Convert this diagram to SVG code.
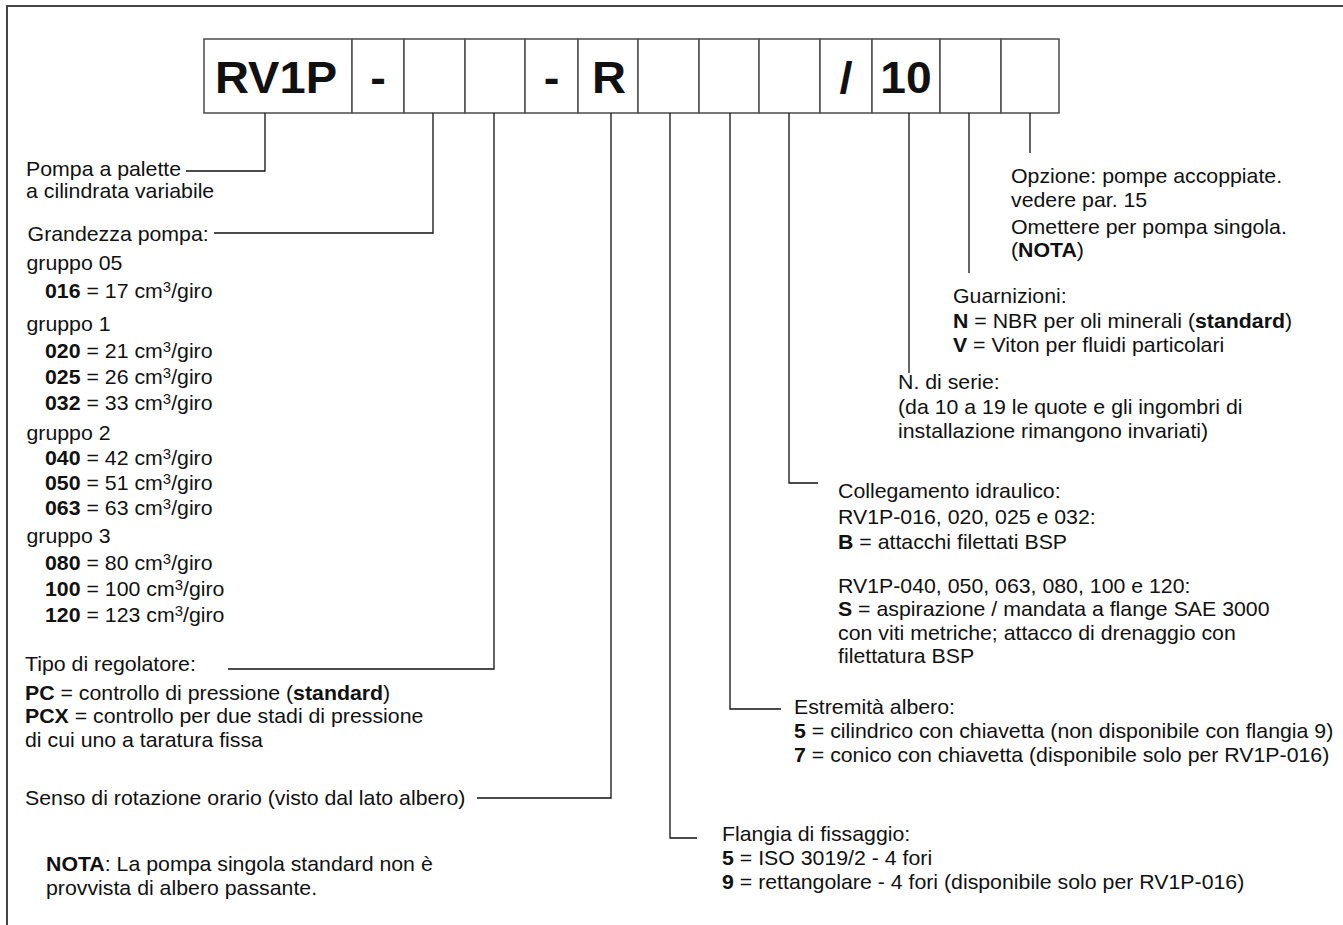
<svg xmlns="http://www.w3.org/2000/svg" width="1343" height="925" viewBox="0 0 1343 925">
<style>
text{font-family:"Liberation Sans",Arial,sans-serif;font-size:20px;fill:#111}
.b{font-weight:bold}
.code{font-weight:bold;font-size:44px;text-anchor:middle}
.cell{fill:#fff;stroke:#555;stroke-width:1.6}
.ln{fill:none;stroke:#111;stroke-width:1.3}
.sup{font-size:14px}
</style>
<rect x="0" y="0" width="1343" height="925" fill="#fff"/>
<rect x="7" y="6" width="1346" height="935" fill="none" stroke="#444" stroke-width="2"/>

<g id="code">
<g id="c1"><rect class="cell" x="204" y="39" width="148" height="74"/><text class="code" transform="translate(276,93) scale(1.07,1)">RV1P</text></g>
<g id="c2"><rect class="cell" x="352" y="39" width="52" height="74"/><text class="code" transform="translate(378,93) scale(1.07,1)">-</text></g>
<g id="c3"><rect class="cell" x="404" y="39" width="61" height="74"/></g>
<g id="c4"><rect class="cell" x="465" y="39" width="60" height="74"/></g>
<g id="c5"><rect class="cell" x="525" y="39" width="53" height="74"/><text class="code" transform="translate(551.5,93) scale(1.07,1)">-</text></g>
<g id="c6"><rect class="cell" x="578" y="39" width="60" height="74"/><text class="code" transform="translate(609,93) scale(1.07,1)">R</text></g>
<g id="c7"><rect class="cell" x="638" y="39" width="61" height="74"/></g>
<g id="c8"><rect class="cell" x="699" y="39" width="60" height="74"/></g>
<g id="c9"><rect class="cell" x="759" y="39" width="61" height="74"/></g>
<g id="c10"><rect class="cell" x="820" y="39" width="52" height="74"/><text class="code" transform="translate(846,93) scale(1.07,1)">/</text></g>
<g id="c11"><rect class="cell" x="872" y="39" width="68" height="74"/><text class="code" transform="translate(906,93) scale(1.05,1)">10</text></g>
<g id="c12"><rect class="cell" x="940" y="39" width="61" height="74"/></g>
<g id="c13"><rect class="cell" x="1001" y="39" width="58" height="74"/></g>
</g>

<g id="connectors">
<polyline class="ln" points="265,113 265,171 186,171"/>
<polyline class="ln" points="433,113 433,233 214,233"/>
<polyline class="ln" points="494,113 494,669 228,669"/>
<polyline class="ln" points="611,113 611,798 477,798"/>
<polyline class="ln" points="670,113 670,838 697,838"/>
<polyline class="ln" points="730,113 730,709 781,709"/>
<polyline class="ln" points="789,113 789,483 818,483"/>
<polyline class="ln" points="909,113 909,373"/>
<polyline class="ln" points="969,113 969,273"/>
<polyline class="ln" points="1030,113 1030,153"/>
</g>

<g id="n-pompa" transform="translate(26,0) scale(1.065,1)">
<text x="0" y="176">Pompa a palette</text>
<text x="0" y="198">a cilindrata variabile</text>
</g>

<g id="n-grandezza" transform="translate(26.5,0) scale(1.065,1)">
<text x="1" y="241">Grandezza pompa:</text>
<text x="0" y="270">gruppo 05</text>
<text x="17.4" y="298"><tspan class="b">016</tspan> = 17 cm<tspan class="sup" dy="-6">3</tspan><tspan dy="6">/giro</tspan></text>
<text x="0" y="331">gruppo 1</text>
<text x="17.4" y="358"><tspan class="b">020</tspan> = 21 cm<tspan class="sup" dy="-6">3</tspan><tspan dy="6">/giro</tspan></text>
<text x="17.4" y="384"><tspan class="b">025</tspan> = 26 cm<tspan class="sup" dy="-6">3</tspan><tspan dy="6">/giro</tspan></text>
<text x="17.4" y="410"><tspan class="b">032</tspan> = 33 cm<tspan class="sup" dy="-6">3</tspan><tspan dy="6">/giro</tspan></text>
<text x="0" y="440">gruppo 2</text>
<text x="17.4" y="465"><tspan class="b">040</tspan> = 42 cm<tspan class="sup" dy="-6">3</tspan><tspan dy="6">/giro</tspan></text>
<text x="17.4" y="490"><tspan class="b">050</tspan> = 51 cm<tspan class="sup" dy="-6">3</tspan><tspan dy="6">/giro</tspan></text>
<text x="17.4" y="515"><tspan class="b">063</tspan> = 63 cm<tspan class="sup" dy="-6">3</tspan><tspan dy="6">/giro</tspan></text>
<text x="0" y="543">gruppo 3</text>
<text x="17.4" y="570"><tspan class="b">080</tspan> = 80 cm<tspan class="sup" dy="-6">3</tspan><tspan dy="6">/giro</tspan></text>
<text x="17.4" y="596"><tspan class="b">100</tspan> = 100 cm<tspan class="sup" dy="-6">3</tspan><tspan dy="6">/giro</tspan></text>
<text x="17.4" y="622"><tspan class="b">120</tspan> = 123 cm<tspan class="sup" dy="-6">3</tspan><tspan dy="6">/giro</tspan></text>
</g>

<g id="n-tipo" transform="translate(25,0) scale(1.065,1)">
<text x="0" y="671">Tipo di regolatore:</text>
<text x="0" y="700"><tspan class="b">PC</tspan> = controllo di pressione (<tspan class="b">standard</tspan>)</text>
<text x="0" y="723"><tspan class="b">PCX</tspan> = controllo per due stadi di pressione</text>
<text x="0" y="747">di cui uno a taratura fissa</text>
</g>

<g id="n-senso" transform="translate(25,0) scale(1.065,1)">
<text x="0" y="805">Senso di rotazione orario (visto dal lato albero)</text>
</g>

<g id="n-nota" transform="translate(46,0) scale(1.065,1)">
<text x="0" y="871"><tspan class="b">NOTA</tspan>: La pompa singola standard non è</text>
<text x="0" y="895">provvista di albero passante.</text>
</g>

<g id="n-opzione" transform="translate(1011,0) scale(1.065,1)">
<text x="0" y="183">Opzione: pompe accoppiate.</text>
<text x="0" y="207">vedere par. 15</text>
<text x="0" y="234">Omettere per pompa singola.</text>
<text x="0" y="257">(<tspan class="b">NOTA</tspan>)</text>
</g>

<g id="n-guarnizioni" transform="translate(953,0) scale(1.065,1)">
<text x="0" y="303">Guarnizioni:</text>
<text x="0" y="328"><tspan class="b">N</tspan> = NBR per oli minerali (<tspan class="b">standard</tspan>)</text>
<text x="0" y="352"><tspan class="b">V</tspan> = Viton per fluidi particolari</text>
</g>

<g id="n-serie" transform="translate(898,0) scale(1.065,1)">
<text x="0" y="389">N. di serie:</text>
<text x="0" y="414">(da 10 a 19 le quote e gli ingombri di</text>
<text x="0" y="438">installazione rimangono invariati)</text>
</g>

<g id="n-collegamento" transform="translate(838,0) scale(1.065,1)">
<text x="0" y="498">Collegamento idraulico:</text>
<text x="0" y="524">RV1P-016, 020, 025 e 032:</text>
<text x="0" y="549"><tspan class="b">B</tspan> = attacchi filettati BSP</text>
<text x="0" y="593">RV1P-040, 050, 063, 080, 100 e 120:</text>
<text x="0" y="616"><tspan class="b">S</tspan> = aspirazione / mandata a flange SAE 3000</text>
<text x="0" y="640">con viti metriche; attacco di drenaggio con</text>
<text x="0" y="663">filettatura BSP</text>
</g>

<g id="n-estremita" transform="translate(794,0) scale(1.065,1)">
<text x="0" y="714">Estremità albero:</text>
<text x="0" y="738"><tspan class="b">5</tspan> = cilindrico con chiavetta (non disponibile con flangia 9)</text>
<text x="0" y="762"><tspan class="b">7</tspan> = conico con chiavetta (disponibile solo per RV1P-016)</text>
</g>

<g id="n-flangia" transform="translate(722,0) scale(1.065,1)">
<text x="0" y="841">Flangia di fissaggio:</text>
<text x="0" y="865"><tspan class="b">5</tspan> = ISO 3019/2 - 4 fori</text>
<text x="0" y="889"><tspan class="b">9</tspan> = rettangolare - 4 fori (disponibile solo per RV1P-016)</text>
</g>
</svg>
